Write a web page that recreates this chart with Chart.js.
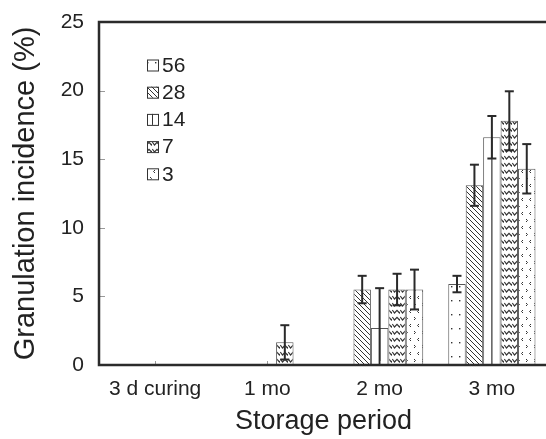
<!DOCTYPE html>
<html>
<head>
<meta charset="utf-8">
<script src="https://cdn.jsdelivr.net/npm/chart.js@4"></script>
<style>
  html, body { margin: 0; padding: 0; background: #fff; overflow: hidden; }
  #wrap { width: 546px; height: 439px; overflow: hidden; position: relative; }
  #box { width: 552px; height: 439px; }
</style>
</head>
<body>
<div id="wrap"><div id="box"><canvas id="c"></canvas></div></div>
<script>
// ---- data ----
const categories = ['3 d curing', '1 mo', '2 mo', '3 mo'];
const seriesLabels = ['56', '28', '14', '7', '3'];
const v56 = [0, 0, 0, 5.9];
const v28 = [0, 0, 5.5, 13.1];
const v14 = [0, 0, 2.7, 16.6];
const v7  = [0, 1.65, 5.5, 17.8];
const v3  = [0, 0, 5.5, 14.3];
const e56 = [0, 0, 0, 0.6];
const e28 = [0, 0, 1.0, 1.5];
const e14 = [0, 0, 2.9, 1.55];
const e7  = [0, 1.25, 1.15, 2.15];
const e3  = [0, 0, 1.45, 1.8];
const yTicks = [0, 5, 10, 15, 20, 25];

const FONT = "'Liberation Sans', Arial, sans-serif";
const INK = '#2b2b2b';

// ---- fill patterns ----
function tile(w, h, draw) {
  const c = document.createElement('canvas');
  c.width = w; c.height = h;
  const g = c.getContext('2d');
  g.fillStyle = '#fff'; g.fillRect(0, 0, w, h);
  g.strokeStyle = '#333'; g.fillStyle = '#333'; g.lineWidth = 1;
  draw(g);
  return document.getElementById('c').getContext('2d').createPattern(c, 'repeat');
}
const pDots = tile(8, 14, g => { g.fillRect(3, 6, 1.4, 1.4); });
const pDiag = tile(5, 5, g => {
  g.beginPath(); g.moveTo(-1, -1); g.lineTo(6, 6); g.moveTo(-1, 4); g.lineTo(1, 6); g.moveTo(4, -1); g.lineTo(6, 1); g.stroke();
});
const pWhite = '#ffffff';
const pZig = tile(8.7, 7, g => {
  g.lineWidth = 1.2;
  g.beginPath(); g.moveTo(0.3, 2); g.lineTo(2.5, 5); g.lineTo(5, 2.3); g.lineTo(7.5, 5); g.lineTo(8.7, 3.5); g.stroke();
});
const pSpeck = tile(8.7, 14, g => {
  g.lineWidth = 1;
  g.beginPath(); g.moveTo(3, 2); g.lineTo(1.5, 3.5); g.lineTo(3, 5); g.stroke();
  g.beginPath(); g.moveTo(6, 9); g.lineTo(7.5, 10.5); g.lineTo(6, 12); g.stroke();
});

const values = [v56, v28, v14, v7, v3];
const errors = [e56, e28, e14, e7, e3];
const fills = [pDots, pDiag, pWhite, pZig, pSpeck];

const datasets = seriesLabels.map((lab, i) => ({
  label: lab,
  data: values[i],
  backgroundColor: fills[i],
  borderColor: '#555',
  borderWidth: 1,
  borderSkipped: false,
  categoryPercentage: 0.777,
  barPercentage: 1.0,
  errs: errors[i]
}));

const decor = {
  id: 'decor',
  afterDatasetsDraw(chart) {
    const ctx = chart.ctx, a = chart.chartArea;
    const ys = chart.scales.y, xs = chart.scales.x;
    ctx.save();
    // centre line of the "14" bars
    const m14 = chart.getDatasetMeta(2);
    ctx.strokeStyle = '#333'; ctx.lineWidth = 1.2;
    m14.data.forEach((el, j) => {
      if (values[2][j] > 0) {
        ctx.beginPath(); ctx.moveTo(el.x, el.y); ctx.lineTo(el.x, el.base); ctx.stroke();
      }
    });
    // error bars
    ctx.strokeStyle = '#2a2a2a'; ctx.lineWidth = 2;
    chart.data.datasets.forEach((ds, i) => {
      const meta = chart.getDatasetMeta(i);
      meta.data.forEach((el, j) => {
        const v = ds.data[j], e = ds.errs[j];
        if (!e) return;
        const yt = ys.getPixelForValue(v + e);
        const lo = v - e;
        const yb = ys.getPixelForValue(Math.max(lo, 0));
        ctx.beginPath(); ctx.moveTo(el.x, yt); ctx.lineTo(el.x, yb); ctx.stroke();
        ctx.beginPath(); ctx.moveTo(el.x - 4.5, yt); ctx.lineTo(el.x + 4.5, yt); ctx.stroke();
        if (lo > 0) { ctx.beginPath(); ctx.moveTo(el.x - 4.5, yb); ctx.lineTo(el.x + 4.5, yb); ctx.stroke(); }
      });
    });
    // inner ticks
    ctx.strokeStyle = '#999'; ctx.lineWidth = 1;
    yTicks.forEach(t => {
      if (t === 0 || t === 25) return;
      const y = Math.round(ys.getPixelForValue(t)) + 0.5;
      ctx.beginPath(); ctx.moveTo(a.left + 1, y); ctx.lineTo(a.left + 6, y); ctx.stroke();
    });
    categories.forEach((c, j) => {
      const x = Math.round(xs.getPixelForValue(j)) + 0.5;
      ctx.beginPath(); ctx.moveTo(x, a.bottom); ctx.lineTo(x, a.bottom - 4); ctx.stroke();
    });
    // frame (top, left, bottom)
    ctx.strokeStyle = INK; ctx.lineWidth = 2.5;
    ctx.beginPath();
    ctx.moveTo(chart.width, a.top); ctx.lineTo(a.left, a.top); ctx.lineTo(a.left, a.bottom); ctx.lineTo(chart.width, a.bottom);
    ctx.stroke();
    // legend
    ctx.font = '21px ' + FONT; ctx.textBaseline = 'middle'; ctx.textAlign = 'left';
    chart.data.datasets.forEach((ds, i) => {
      const yc = 65 + i * 27.2;
      const bx = 147, bs = 11;
      ctx.fillStyle = ds.backgroundColor; ctx.fillRect(bx, yc - bs / 2, bs, bs);
      if (i === 2) { ctx.strokeStyle = '#333'; ctx.lineWidth = 1; ctx.beginPath(); ctx.moveTo(bx + bs / 2, yc - bs / 2); ctx.lineTo(bx + bs / 2, yc + bs / 2); ctx.stroke(); }
      ctx.strokeStyle = '#333'; ctx.lineWidth = 1;
      ctx.strokeRect(bx + 0.5, yc - bs / 2 + 0.5, bs, bs);
      ctx.fillStyle = '#222';
      ctx.fillText(ds.label, bx + 15, yc + 1);
    });
    ctx.restore();
  }
};

new Chart(document.getElementById('c'), {
  type: 'bar',
  data: { labels: categories, datasets },
  options: {
    responsive: true,
    maintainAspectRatio: false,
    animation: false,
    layout: { padding: { left: 0, top: 22, right: 4, bottom: 0 } },
    plugins: { legend: { display: false }, tooltip: { enabled: false } },
    scales: {
      x: {
        grid: { display: false, drawTicks: false },
        border: { display: false },
        ticks: { color: '#222', font: { family: FONT, size: 21 }, padding: 12, maxRotation: 0 },
        title: { display: true, text: 'Storage period', color: '#222', font: { family: FONT, size: 27 }, padding: { top: 0, bottom: 1 } },
        afterFit(s) { s.height = 74; s.paddingLeft = 0; s.paddingRight = 0; }
      },
      y: {
        min: 0, max: 25,
        afterBuildTicks(s) { s.ticks = yTicks.map(v => ({ value: v })); },
        grid: { display: false, drawTicks: false },
        border: { display: false },
        ticks: { color: '#222', font: { family: FONT, size: 21 }, padding: 15 },
        title: { display: true, text: 'Granulation incidence (%)', color: '#222', font: { family: FONT, size: 29 }, padding: { top: 9, bottom: 0 } },
        afterFit(s) { s.width = 99; s.paddingTop = 0; s.paddingBottom = 0; }
      }
    }
  },
  plugins: [decor]
});
</script>
</body>
</html>
